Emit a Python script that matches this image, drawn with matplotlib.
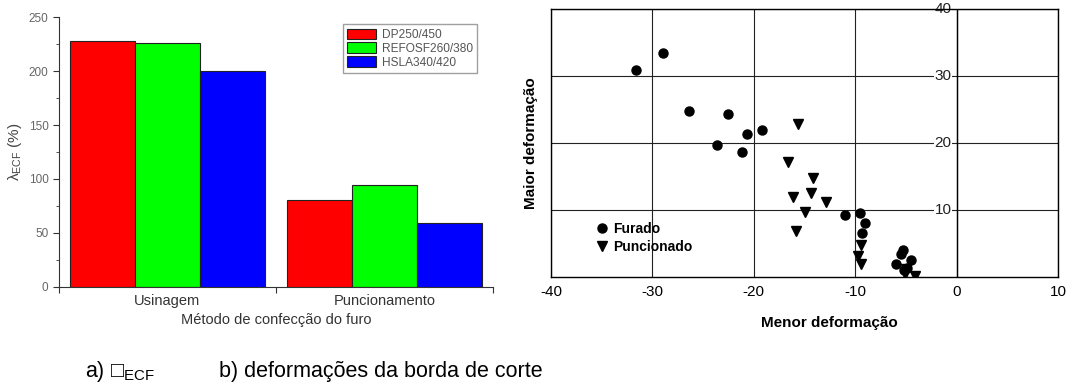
import matplotlib.pyplot as plt
import numpy as np

# Dados - a) lambda ECF por método de confecção do furo
metodos = ["Usinagem", "Puncionamento"]
materiais = ["DP250/450", "REFOSF260/380", "HSLA340/420"]
lambda_dp = [228, 81]
lambda_refosf = [226, 94]
lambda_hsla = [200, 59]
cores = ["#ff0000", "#00ff00", "#0000ff"]

# Dados - b) deformações da borda de corte
furado_menor = [-31.6, -29.0, -26.4, -22.5, -20.7, -19.2, -23.6, -21.2,
                -11.0, -9.5, -9.0, -9.3, -5.3, -5.5, -4.5, -6.0, -4.9, -5.2]
furado_maior = [30.9, 33.4, 24.7, 24.4, 21.3, 21.9, 19.7, 18.7,
                9.3, 9.5, 8.1, 6.5, 4.0, 3.5, 2.5, 1.9, 1.4, 1.0]
punc_menor = [-15.6, -16.6, -14.2, -14.4, -16.1, -12.9, -15.0, -15.8,
              -9.4, -9.7, -9.4, -5.1, -4.1, -5.0]
punc_maior = [22.8, 17.1, 14.8, 12.6, 11.9, 11.2, 9.7, 6.8,
              4.8, 3.1, 2.0, 0.4, 0.15, 1.2]

plt.rcParams['font.family'] = ['Liberation Sans', 'DejaVu Sans']

fig = plt.figure(figsize=(10.66, 3.91), dpi=100)

# ---------------- a) barras ----------------
ax1 = fig.add_axes([0.0553, 0.266, 0.4072, 0.6905])
x = np.array([0.5, 1.5])
largura = 0.3
for i, (vals, nome) in enumerate(zip([lambda_dp, lambda_refosf, lambda_hsla], materiais)):
    ax1.bar(x + (i - 1) * largura, vals, largura, color=cores[i],
            edgecolor='#222222', linewidth=0.8, label=nome)

ax1.set_xlim(0, 2)
ax1.set_ylim(0, 250)
ax1.set_xticks([0, 1, 2], labels=[])
ax1.set_xticks(x, labels=metodos, minor=True)
ax1.tick_params(axis='x', which='major', direction='out', length=4, color='#333333')
ax1.tick_params(axis='x', which='minor', length=0, labelsize=10.5, labelcolor='#333333', pad=5)
ax1.set_yticks(np.arange(0, 251, 50))
ax1.set_yticks(np.arange(0, 251, 25), minor=True)
ax1.tick_params(axis='y', which='major', length=4, labelsize=8.5, labelcolor='#666666', color='#333333')
ax1.tick_params(axis='y', which='minor', length=2, color='#333333')
ax1.spines['top'].set_visible(False)
ax1.spines['right'].set_visible(False)
for s in ['left', 'bottom']:
    ax1.spines[s].set_color('#333333')
ax1.set_ylabel(r"$\mathregular{\lambda_{ECF}}$ (%)", fontsize=11, color='#444444', labelpad=3)
ax1.set_xlabel("Método de confecção do furo", fontsize=10.5, color='#333333', labelpad=4)
leg1 = ax1.legend(loc='upper left', bbox_to_anchor=(0.64, 0.995), fontsize=8.6,
                  frameon=True, fancybox=False, edgecolor='#888888',
                  handlelength=2.4, handleheight=1.0, labelspacing=0.12,
                  borderpad=0.35, handletextpad=0.5)
for t in leg1.get_texts():
    t.set_color('#555555')

# ---------------- b) dispersão ----------------
ax2 = fig.add_axes([0.5169, 0.2916, 0.4756, 0.6854])
ax2.set_xlim(-40, 10)
ax2.set_ylim(0, 40)
ax2.set_xticks(np.arange(-40, 11, 10))
ax2.set_xticklabels([f"{v}" for v in range(-40, 11, 10)])
ax2.set_yticks([10, 20, 30, 40], labels=[])
ax2.tick_params(axis='y', length=0)
ax2.tick_params(axis='x', length=0, labelsize=11, pad=6)
ax2.grid(True, color='#222222', linewidth=0.8)
ax2.set_axisbelow(True)
ax2.axvline(0, color='black', linewidth=1.0, zorder=1)
for s in ax2.spines.values():
    s.set_linewidth(1.0)

for v in [10, 20, 30, 40]:
    ax2.text(-0.5, v, str(v), ha='right', va='center', fontsize=11, color='#222222',
             bbox=dict(facecolor='white', edgecolor='none', pad=0.3), zorder=2)

ax2.plot(furado_menor, furado_maior, 'o', color='black', markersize=6.5,
         linestyle='none', label='Furado', zorder=3)
ax2.plot(punc_menor, punc_maior, 'v', color='black', markersize=7,
         linestyle='none', label='Puncionado', zorder=3)

ax2.set_xlabel("Menor deformação", fontsize=11, fontweight='bold')
ax2.xaxis.set_label_coords(0.55, -0.145)
ax2.set_ylabel("Maior deformação", fontsize=11, fontweight='bold', labelpad=6)
ax2.legend(loc='lower left', bbox_to_anchor=(0.06, 0.04), frameon=False,
           prop={'weight': 'bold', 'size': 10}, handletextpad=0.2,
           labelspacing=0.3, handlelength=1.2)

# ---------------- legendas das figuras ----------------
fig.text(0.080, 0.035, "a) \u25a1$_{\\mathregular{ECF}}$", fontsize=15.5,
         family=['Liberation Sans', 'DejaVu Sans'])
fig.text(0.205, 0.035, "b) deformações da borda de corte", fontsize=15.5)

fig.savefig("out.png", dpi=100)
